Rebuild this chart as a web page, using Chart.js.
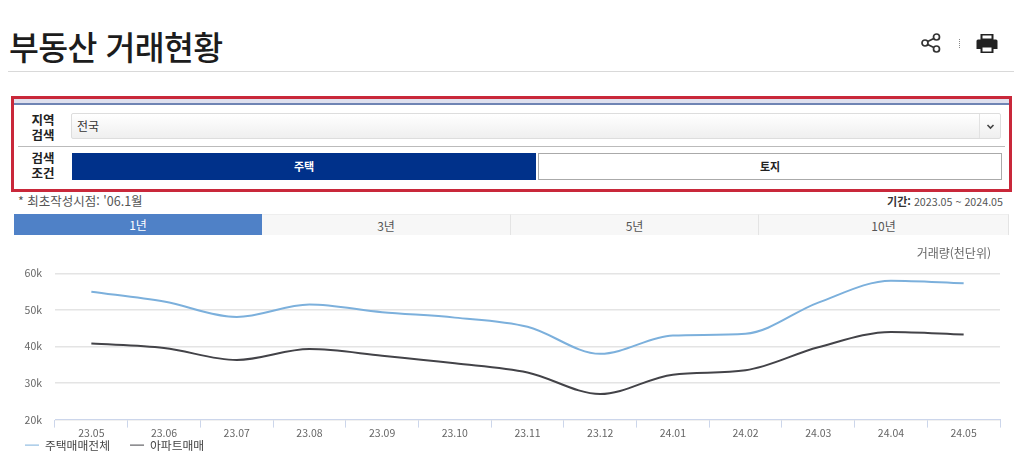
<!DOCTYPE html>
<html lang="ko">
<head>
<meta charset="utf-8">
<title>부동산 거래현황</title>
<script src="https://cdn.jsdelivr.net/npm/chart.js@4/dist/chart.umd.min.js"></script>
<style>
  html, body { margin: 0; padding: 0; background: #fff; }
  body { width: 1024px; height: 463px; position: relative; overflow: hidden; font-family: "Noto Sans CJK KR", "Noto Sans", sans-serif; color: #222; }
  .abs { position: absolute; box-sizing: border-box; }
  .title { left: 9px; top: 21px; font-size: 32.5px; line-height: 50px; font-weight: 500; letter-spacing: -0.6px; color: #1c1c1c; }
  .rule { left: 8px; top: 71px; width: 1006px; height: 1px; background: #d9d9d9; }
  .box { left: 11px; top: 96px; width: 1001px; height: 96px; border: 3px solid #c9283a; }
  .stripe { left: 14px; top: 99px; width: 995px; height: 6px; background: linear-gradient(#dfe0ee 0, #dfe0ee 60%, #6f84b4 60%, #6f84b4 100%); }
  .lbl { width: 50px; left: 18px; text-align: center; font-size: 12.5px; line-height: 15px; font-weight: 700; color: #222; }
  .select { left: 71px; top: 113px; width: 930px; height: 26px; border: 1px solid #ddd; border-radius: 2px; background: linear-gradient(#fff, #efefef); font-size: 12px; line-height: 24px; padding-left: 5px; color: #333; }
  .select i { position: absolute; right: 0; top: 0; width: 20px; height: 24px; border-left: 1px solid #e2e2e2; }
  .select svg { position: absolute; right: 5px; top: 10px; }
  .divider { left: 18px; top: 146px; width: 987px; height: 1px; background: #bbb; }
  .btn { top: 153px; height: 27px; font-size: 11px; line-height: 27px; text-align: center; font-weight: 700; }
  .on { left: 72px; width: 464px; background: #00318a; color: #fff; }
  .off { left: 538px; width: 464px; border: 1px solid #aaa; background: #fff; color: #222; line-height: 25px; }
  .note { left: 18px; top: 192px; font-size: 12.5px; line-height: 18px; color: #555; }
  .period { right: 21px; top: 192px; font-size: 10.7px; line-height: 18px; color: #555; }
  .period b { color: #333; font-size: 11px; }
  .tab { top: 214px; height: 21px; font-size: 12px; line-height: 21px; text-align: center; color: #555; background: #f7f7f7; border-right: 1px solid #e4e4e4; border-top: 1px solid #eee; }
  .tab.sel { background: #4f81c7; color: #fff; border: 0; }
  #chartBox { position: absolute; left: 0; top: 240px; width: 1024px; height: 252px; }
</style>
</head>
<body>
  <div class="abs title">부동산 거래현황</div>
  <svg class="abs" style="left:920px;top:32px" width="22" height="22" viewBox="0 0 22 22" fill="none" stroke="#333" stroke-width="1.7">
    <circle cx="5" cy="11" r="3"/><circle cx="16.5" cy="5" r="3"/><circle cx="16.5" cy="17" r="3"/>
    <path d="M7.7 9.6 13.8 6.4M7.7 12.4 13.8 15.6"/>
  </svg>
  <div class="abs" style="left:959px;top:39px;width:1px;height:9px;border-left:1px dotted #888"></div>
  <svg class="abs" style="left:976px;top:32px" width="22" height="22" viewBox="0 0 22 22">
    <path fill="#222" d="M4.5 2h13v6h-13zM2 7.5h18a1.500 1.500 0 0 1 1.500 1.500v8h-4v-3h-13v3h-4V9a1.500 1.500 0 0 1 1.500-1.500zM4.500 13h13v8h-13z"/>
    <rect x="6.500" y="3.500" width="9" height="3" fill="#fff"/><rect x="6.500" y="15.500" width="9" height="4" fill="#fff"/>
  </svg>
  <div class="abs rule"></div>

  <div class="abs box"></div>
  <div class="abs stripe"></div>
  <div class="abs lbl" style="top:112px">지역<br>검색</div>
  <div class="abs select">전국<i></i><svg width="9" height="6" viewBox="0 0 9 6"><path d="M1.500 1 4.500 4 7.500 1" fill="none" stroke="#444" stroke-width="1.600"/></svg></div>
  <div class="abs divider"></div>
  <div class="abs lbl" style="top:150px">검색<br>조건</div>
  <div class="abs btn on">주택</div>
  <div class="abs btn off">토지</div>

  <div class="abs note">* 최초작성시점: '06.1월</div>
  <div class="abs period"><b>기간:</b> 2023.05 ~ 2024.05</div>

  <div class="abs tab sel" style="left:14px;width:248px">1년</div>
  <div class="abs tab" style="left:262px;width:249px">3년</div>
  <div class="abs tab" style="left:511px;width:248px">5년</div>
  <div class="abs tab" style="left:759px;width:250px">10년</div>

  <div id="chartBox"><canvas id="tradeChart"></canvas></div>

<script>
const months = ['23.05', '23.06', '23.07', '23.08', '23.09', '23.10', '23.11', '23.12', '24.01', '24.02', '24.03', '24.04', '24.05'];
const houseTotal = [55000, 52300, 48100, 51500, 49400, 47900, 45400, 38000, 43000, 43500, 52000, 58000, 57300];
const apartment = [40800, 39600, 36300, 39300, 37500, 35400, 32900, 27000, 32300, 33500, 39800, 44000, 43300];
const seriesNames = ['주택매매전체', '아파트매매'];
const yTicks = [20000, 30000, 40000, 50000, 60000];
const unitLabel = '거래량(천단위)';

const fontFamily = '"Noto Sans CJK KR", "Noto Sans", sans-serif';

// legend sits tight under the tick labels and the unit text is inset from the plot edge
const nudgeBoxes = {
  id: 'nudgeBoxes',
  afterLayout (chart) {
    chart.legend.left += 5;
    chart.legend.top -= 19;
    chart.titleBlock.right -= 9;
  }
};

new Chart(document.getElementById('tradeChart'), {
  type: 'line',
  data: {
    labels: months,
    datasets: [
      { label: seriesNames[0], data: houseTotal, borderColor: '#7cb0dc', backgroundColor: '#7cb0dc' },
      { label: seriesNames[1], data: apartment, borderColor: '#434348', backgroundColor: '#434348' }
    ]
  },
  plugins: [nudgeBoxes],
  options: {
    responsive: true,
    maintainAspectRatio: false,
    animation: false,
    layout: { padding: { left: 0, right: 24, top: 0, bottom: 12 } },
    elements: {
      point: { radius: 0 },
      line: { borderWidth: 2, cubicInterpolationMode: 'monotone' }
    },
    plugins: {
      tooltip: { enabled: false },
      title: {
        display: true,
        text: unitLabel,
        align: 'end',
        color: '#666',
        font: { family: fontFamily, size: 12, weight: 'normal' },
        padding: { top: 6, bottom: 13 }
      },
      legend: {
        position: 'bottom',
        align: 'start',
        labels: {
          usePointStyle: true,
          pointStyle: 'line',
          pointStyleWidth: 14,
          boxHeight: 8,
          padding: 20,
          color: '#444',
          font: { family: fontFamily, size: 11.8 }
        }
      }
    },
    scales: {
      x: {
        offset: true,
        border: { color: '#ccd6eb' },
        grid: { offset: true, drawOnChartArea: false, color: '#ccd6eb', tickLength: 8 },
        ticks: { color: '#666', font: { family: fontFamily, size: 10.5 }, padding: -1, maxRotation: 0, autoSkip: false }
      },
      y: {
        min: 20000,
        max: 60000,
        afterFit: scale => { scale.width = 55; },
        afterBuildTicks: scale => { scale.ticks = yTicks.map(value => ({ value })); },
        border: { display: false },
        grid: { color: '#e4e4e4', tickLength: 0, lineWidth: 1.4 },
        ticks: {
          color: '#666',
          font: { family: fontFamily, size: 10.5 },
          padding: 13,
          callback: value => (value / 1000) + 'k'
        }
      }
    }
  }
});
</script>
</body>
</html>
